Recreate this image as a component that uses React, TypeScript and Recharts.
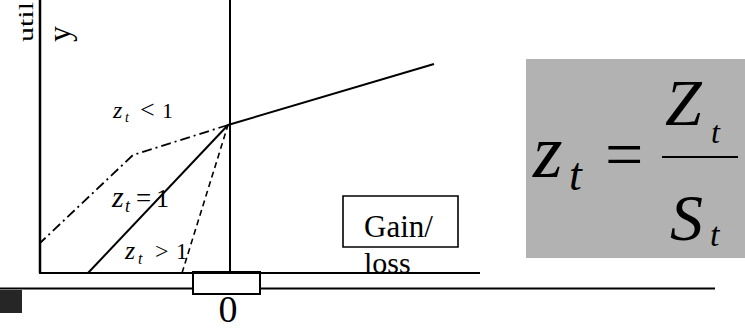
import React from "react";
import {
  ComposedChart,
  Line,
  XAxis,
  YAxis,
  ReferenceLine,
  ReferenceArea,
  ReferenceDot,
} from "recharts";

// Value function (gain/loss on x, utility on y); reference point at (0, 0)
const gainCurve = [
  { x: 0, y: 0 },
  { x: 206, y: 61 },
];
const lossLowZ = [
  { x: 0, y: 0 },
  { x: -95, y: -30 },
  { x: -188, y: -118 },
];
const lossUnitZ = [
  { x: -140, y: -148 },
  { x: 0, y: 0 },
];
const lossHighZ = [
  { x: -46, y: -148 },
  { x: 0, y: 0 },
];

const X_DOMAIN = [-228, 517];
const Y_DOMAIN = [-205, 125];

const SERIF = "'Liberation Serif', 'Times New Roman', serif";

type ShapeProps = { cx?: number; cy?: number };

const ZLabel = (
  rel: string,
  zSize: number,
  tSize: number,
  relSize: number,
  numSize: number,
  tDx: number,
  relDx: number,
  numDx: number
) =>
  (p: ShapeProps) => {
    const cx = p.cx ?? 0;
    const cy = p.cy ?? 0;
    return (
      <g fontFamily={SERIF} fill="#000">
        <text x={cx} y={cy} fontSize={zSize} fontStyle="italic">z</text>
        <text x={cx + tDx} y={cy + tSize * 0.3} fontSize={tSize} fontStyle="italic">t</text>
        <text x={cx + relDx} y={cy} fontSize={relSize}>{rel}</text>
        <text x={cx + numDx} y={cy} fontSize={numSize}>1</text>
      </g>
    );
  };

const TextShape = (
  txt: string,
  size: number,
  opts: { rotate?: boolean; anchor?: string; italic?: boolean; length?: number } = {}
) =>
  (p: ShapeProps) => {
    const cx = p.cx ?? 0;
    const cy = p.cy ?? 0;
    return (
      <text
        x={cx}
        y={cy}
        fontFamily={SERIF}
        fontSize={size}
        fontStyle={opts.italic ? "italic" : "normal"}
        textAnchor={opts.anchor ?? "start"}
        transform={opts.rotate ? `rotate(-90 ${cx} ${cy})` : undefined}
        textLength={opts.length}
        lengthAdjust={opts.length ? "spacingAndGlyphs" : undefined}
        fill="#000"
      >
        {txt}
      </text>
    );
  };

const Formula = (p: ShapeProps) => {
  const cx = p.cx ?? 0;
  const cy = p.cy ?? 0;
  return (
    <g fontFamily={SERIF} fill="#000">
      <text x={cx} y={cy} fontSize={76} fontStyle="italic">z</text>
      <text x={cx + 36} y={cy + 13} fontSize={46} fontStyle="italic">t</text>
      <text x={cx + 72} y={cy} fontSize={68}>=</text>
      <text x={cx + 132} y={cy - 52} fontSize={66} fontStyle="italic">Z</text>
      <text x={cx + 178} y={cy - 34} fontSize={32} fontStyle="italic">t</text>
      <text x={cx + 137} y={cy + 63} fontSize={66} fontStyle="italic">S</text>
      <text x={cx + 177} y={cy + 69} fontSize={34} fontStyle="italic">t</text>
    </g>
  );
};

export default function App() {
  return (
    <div style={{ position: "fixed", left: 0, top: 0, width: 745, height: 330, background: "#fff" }}>
      <ComposedChart width={745} height={330} margin={{ top: 0, right: 0, bottom: 0, left: 0 }}>
        <XAxis type="number" dataKey="x" domain={X_DOMAIN} hide allowDataOverflow />
        <YAxis type="number" dataKey="y" domain={Y_DOMAIN} hide allowDataOverflow />

        {/* gray formula panel */}
        <ReferenceArea x1={298} x2={517} y1={66} y2={-133} fill="#b2b2b2" fillOpacity={1} stroke="none" ifOverflow="visible" />
        {/* dark square bottom-left */}
        <ReferenceArea x1={-228} x2={-206} y1={-165} y2={-188} fill="#262626" fillOpacity={1} stroke="none" ifOverflow="visible" />

        {/* long lower line */}
        <ReferenceLine segment={[{ x: -228, y: -163.5 }, { x: -35, y: -163.5 }]} stroke="#000" strokeWidth={2} ifOverflow="visible" />
        <ReferenceLine segment={[{ x: 32, y: -163.5 }, { x: 487, y: -163.5 }]} stroke="#000" strokeWidth={2} ifOverflow="visible" />

        {/* plot frame */}
        <ReferenceLine segment={[{ x: -188, y: 125 }, { x: -188, y: -148 }]} stroke="#000" strokeWidth={2.5} ifOverflow="visible" />
        <ReferenceLine segment={[{ x: -189, y: -148 }, { x: 252, y: -148 }]} stroke="#000" strokeWidth={2} ifOverflow="visible" />
        <ReferenceLine segment={[{ x: 2, y: 125 }, { x: 2, y: -148 }]} stroke="#000" strokeWidth={2} ifOverflow="visible" />

        {/* "0" box */}
        <ReferenceArea x1={-35} x2={32} y1={-147} y2={-169} fill="#fff" fillOpacity={1} stroke="#000" strokeWidth={2} ifOverflow="visible" />
        {/* "Gain/ loss" box */}
        <ReferenceArea x1={115} x2={230} y1={-71} y2={-122} fill="#fff" fillOpacity={1} stroke="#000" strokeWidth={1.6} ifOverflow="visible" />

        {/* fraction bar */}
        <ReferenceLine segment={[{ x: 434, y: -32 }, { x: 510, y: -32 }]} stroke="#000" strokeWidth={2} ifOverflow="visible" />

        <Line data={gainCurve} dataKey="y" stroke="#000" strokeWidth={2} dot={false} activeDot={false} isAnimationActive={false} />
        <Line data={lossLowZ} dataKey="y" stroke="#000" strokeWidth={1.8} strokeDasharray="10 4 2 4" dot={false} activeDot={false} isAnimationActive={false} />
        <Line data={lossUnitZ} dataKey="y" stroke="#000" strokeWidth={2} dot={false} activeDot={false} isAnimationActive={false} />
        <Line data={lossHighZ} dataKey="y" stroke="#000" strokeWidth={1.6} strokeDasharray="6 4" dot={false} activeDot={false} isAnimationActive={false} />

        {/* text annotations */}
        <ReferenceDot x={-115} y={7} r={0} ifOverflow="visible" shape={ZLabel("<", 24, 14, 26, 22, 12, 27, 49)} />
        <ReferenceDot x={-116} y={-82} r={0} ifOverflow="visible" shape={ZLabel("=", 30, 18, 27, 26, 13, 24, 44)} />
        <ReferenceDot x={-103} y={-134} r={0} ifOverflow="visible" shape={ZLabel(">", 26, 16, 24, 23, 13, 30, 51)} />
        <ReferenceDot x={-195} y={83} r={0} ifOverflow="visible" shape={TextShape("util", 22, { rotate: true, length: 40 })} />
        <ReferenceDot x={-158} y={83} r={0} ifOverflow="visible" shape={TextShape("y", 32, { rotate: true })} />
        <ReferenceDot x={136} y={-112} r={0} ifOverflow="visible" shape={TextShape("Gain/", 31)} />
        <ReferenceDot x={136} y={-148} r={0} ifOverflow="visible" shape={TextShape("loss", 30)} />
        <ReferenceDot x={0} y={-196.5} r={0} ifOverflow="visible" shape={TextShape("0", 38, { anchor: "middle" })} />
        <ReferenceDot x={305} y={-52} r={0} ifOverflow="visible" shape={Formula} />
      </ComposedChart>
    </div>
  );
}
